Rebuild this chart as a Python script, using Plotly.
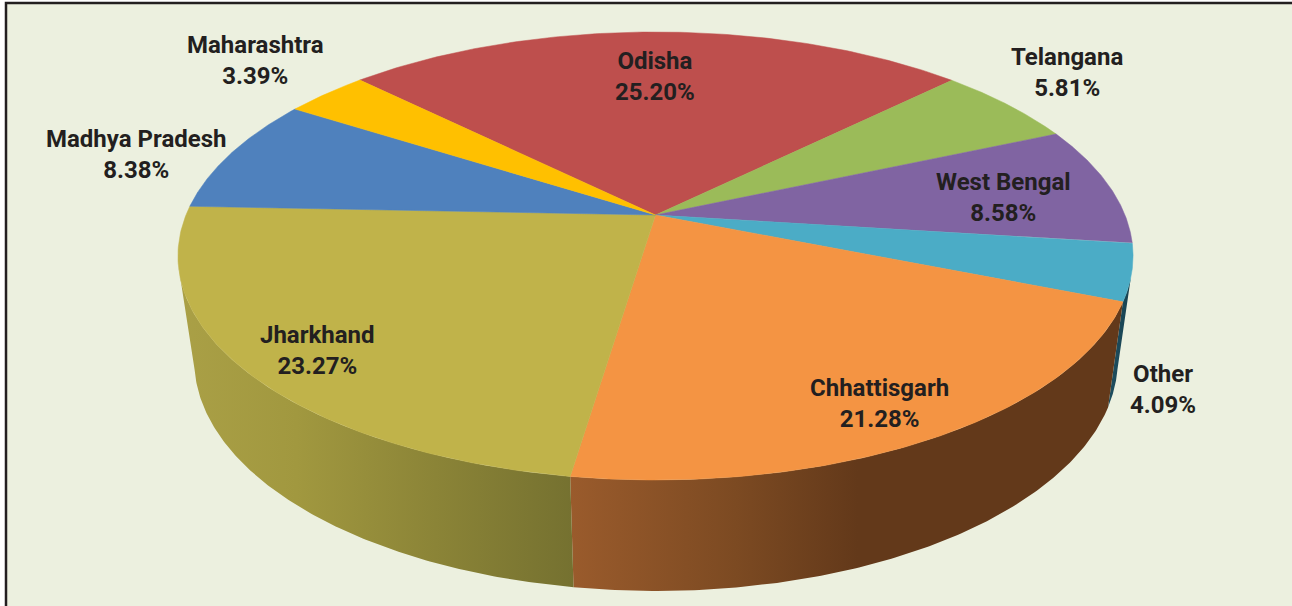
import numpy as np
import plotly.graph_objects as go

# ---- data (clockwise from the Odisha slice) ----
states = ["Odisha", "Telangana", "West Bengal", "Other", "Chhattisgarh",
          "Jharkhand", "Madhya Pradesh", "Maharashtra"]
shares = [25.20, 5.81, 8.58, 4.09, 21.28, 23.27, 8.38, 3.39]

# ---- styles ----
top_colors = ["#BE4F4D", "#9BBB59", "#8064A2", "#4BACC6", "#F49443",
              "#C0B34A", "#4F81BD", "#FFC000"]
wall_scales = {
    "Other": [[0, "#1F4F60"], [1, "#17414F"]],
    "Chhattisgarh": [[0, "#9A5B2C"], [0.30, "#7C4A22"], [0.52, "#63391A"], [1, "#63391A"]],
    "Jharkhand": [[0, "#AAA046"], [0.30, "#A1983F"], [0.65, "#8B8437"], [1, "#757130"]],
}
label_x = [655, 1067, 1003, 1163, 879, 317, 136, 255]
label_y = [76, 72, 197, 389, 403, 350, 154, 60]

BG = "#ECF0DF"
INK = "#231F20"
START = -45.3          # clockwise degrees from "up" where the first slice starts
TOP = dict(cx=655.5, y0=215, a=469.5, b=216.5, p=0.183)
BOTTOM = dict(cx=656, y0=318, a=454, b=223, p=0.183)
VISIBLE = (102.8, 257.2)


def project(theta_deg, g):
    t = np.radians(theta_deg)
    u, v = np.sin(t), np.cos(t)
    d = 1 + g["p"] * v
    return g["cx"] + g["a"] * u / d, g["y0"] - g["b"] * v / d


edges = START + np.concatenate([[0], np.cumsum(shares)]) * 3.6
fig = go.Figure()

# side walls
for i, s in enumerate(states):
    lo, hi = max(edges[i], VISIBLE[0]), min(edges[i + 1], VISIBLE[1])
    if s not in wall_scales or lo >= hi:
        continue
    th = np.linspace(lo, hi, 160)
    xt, yt = project(th, TOP)
    xb, yb = project(th[::-1], BOTTOM)
    fig.add_trace(go.Scatter(
        x=np.r_[xt, xb], y=np.r_[yt, yb], mode="lines", line=dict(width=0),
        fill="toself", hoverinfo="skip", showlegend=False,
        fillgradient=dict(type="horizontal", colorscale=wall_scales[s]),
    ))

# top face
for i, s in enumerate(states):
    th = np.linspace(edges[i], edges[i + 1], 120)
    xa, ya = project(th, TOP)
    fig.add_trace(go.Scatter(
        x=np.r_[TOP["cx"], xa, TOP["cx"]], y=np.r_[TOP["y0"], ya, TOP["y0"]],
        mode="lines", line=dict(width=0.5, color=top_colors[i]),
        fill="toself", fillcolor=top_colors[i],
        name=s, hoverinfo="name", showlegend=False,
    ))

# labels
for s, v, x, y in zip(states, shares, label_x, label_y):
    fig.add_annotation(x=x, y=y, text=f"<b>{s}<br>{v:.2f}%</b>", showarrow=False,
                       xanchor="center", yanchor="middle", align="center",
                       font=dict(family="Roboto", size=24, color=INK))

fig.update_layout(
    width=1292, height=606, margin=dict(l=0, r=0, t=0, b=0),
    paper_bgcolor="white", plot_bgcolor="white", showlegend=False,
    xaxis=dict(range=[0, 1292], visible=False, fixedrange=True),
    yaxis=dict(range=[606, 0], visible=False, fixedrange=True),
    shapes=[dict(type="rect", xref="x", yref="y", x0=6, y0=3, x1=1330, y1=640,
                 fillcolor=BG, line=dict(color=INK, width=2.5), layer="below")],
)
fig.write_html("out.html", config=dict(displayModeBar=False),
               post_script="document.body.style.margin='0';")
